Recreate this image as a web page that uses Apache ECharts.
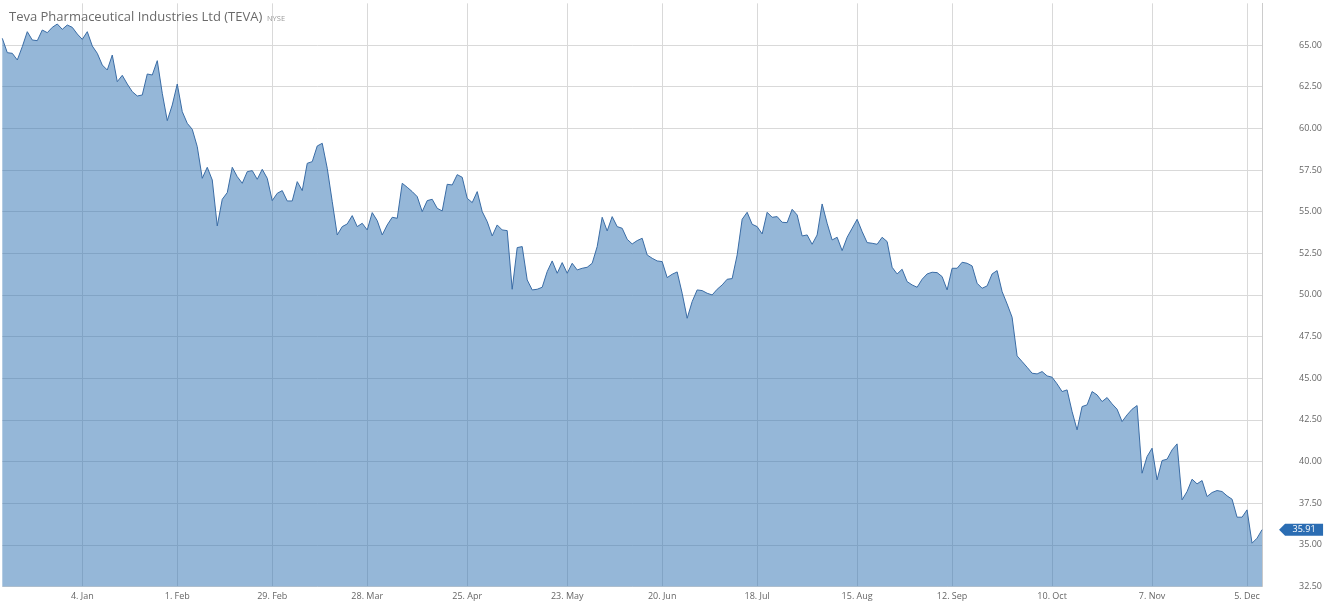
<!DOCTYPE html>
<html><head><meta charset="utf-8">
<script src="https://cdn.jsdelivr.net/npm/echarts@6/dist/echarts.min.js"></script>
<style>html,body{margin:0;padding:0;background:#fff}#c{width:1325px;height:606px}</style>
</head><body><div id="c"></div>
<script>
const titleText = 'Teva Pharmaceutical Industries Ltd (TEVA)';
const exchange = 'NYSE';
const startDate = '2015-12-09';
const endDate = '2016-12-08';
const holidays = ['2015-12-25','2016-01-01','2016-01-18','2016-02-15','2016-03-25','2016-05-30','2016-07-04','2016-09-05','2016-11-24'];
const tickDates = ['2016-01-04','2016-02-01','2016-02-29','2016-03-28','2016-04-25','2016-05-23','2016-06-20','2016-07-18','2016-08-15','2016-09-12','2016-10-10','2016-11-07','2016-12-05'];
const monthNames = ['Jan','Feb','Mar','Apr','May','Jun','Jul','Aug','Sep','Oct','Nov','Dec'];
const yTicks = {min: 32.5, max: 67.5, step: 2.5};
const closes = [
65.4,64.54,64.5,64.1,64.9,65.8,65.3,65.26,65.9,65.74,
66.06,66.26,65.94,66.2,66.06,65.66,65.34,65.8,64.94,64.5,
63.8,63.5,64.4,62.8,63.18,62.66,62.2,61.94,62.0,63.26,
63.2,64.06,62.1,60.46,61.4,62.66,61.0,60.3,59.94,58.9,
57.0,57.66,56.9,54.14,55.74,56.14,57.66,57.1,56.7,57.4,
57.46,56.94,57.54,57.0,55.66,56.1,56.26,55.64,55.64,56.8,
56.26,57.9,58.0,58.94,59.1,57.6,55.6,53.6,54.1,54.26,
54.76,54.1,54.3,53.9,54.94,54.46,53.6,54.2,54.66,54.6,
56.7,56.46,56.2,55.9,55.0,55.66,55.74,55.2,55.04,56.64,
56.6,57.22,57.06,55.8,55.54,56.2,55.0,54.4,53.54,54.2,
53.9,53.86,50.34,52.84,52.9,50.9,50.3,50.34,50.46,51.4,
52.04,51.3,51.94,51.3,51.9,51.5,51.6,51.66,51.9,52.9,
54.66,53.84,54.7,54.1,54.0,53.34,53.06,53.26,53.4,52.4,
52.2,52.04,52.0,51.04,51.24,51.38,50.1,48.6,49.6,50.3,
50.26,50.1,50.0,50.34,50.6,50.94,50.98,52.4,54.54,54.96,
54.24,54.1,53.66,54.96,54.66,54.7,54.36,54.34,55.14,54.8,
53.54,53.6,53.04,53.6,55.46,54.3,53.3,53.46,52.66,53.46,
54.0,54.54,53.8,53.14,53.1,53.04,53.46,53.2,51.66,51.26,
51.54,50.8,50.6,50.46,50.94,51.26,51.36,51.34,51.1,50.3,
51.6,51.6,51.96,51.9,51.74,50.7,50.4,50.54,51.26,51.46,
50.2,49.46,48.66,46.34,46.0,45.66,45.3,45.26,45.4,45.14,
45.06,44.66,44.2,44.3,43.0,41.9,43.3,43.4,44.2,44.0,
43.6,43.84,43.46,43.14,42.4,42.8,43.14,43.36,39.3,40.3,
40.8,38.9,40.06,40.14,40.7,41.06,37.7,38.2,38.94,38.66,
38.86,37.9,38.14,38.26,38.2,37.94,37.74,36.66,36.66,37.1,
35.1,35.4,35.91
];

function pad(n){return (n<10?'0':'')+n;}
function tradingDays(from, to, skip){
  const out = [];
  const d = new Date(from + 'T00:00:00Z');
  const end = new Date(to + 'T00:00:00Z');
  while (d <= end) {
    const s = d.getUTCFullYear() + '-' + pad(d.getUTCMonth()+1) + '-' + pad(d.getUTCDate());
    const wd = d.getUTCDay();
    if (wd !== 0 && wd !== 6 && skip.indexOf(s) < 0) out.push(s);
    d.setUTCDate(d.getUTCDate()+1);
  }
  return out;
}
const dates = tradingDays(startDate, endDate, holidays);
const isTick = (idx, val) => tickDates.indexOf(val) >= 0;
function fmtDate(s){
  const p = s.split('-');
  return parseInt(p[2],10) + '. ' + monthNames[parseInt(p[1],10)-1];
}
const lastIdx = closes.length - 1;

const chart = echarts.init(document.getElementById('c'), null, {renderer:'canvas'});
chart.setOption({
  animation: false,
  backgroundColor: '#ffffff',
  textStyle: {fontFamily: '"Open Sans", "DejaVu Sans", sans-serif'},
  title: {
    text: '{a|' + titleText + '} {b|' + exchange + '}',
    left: 4, top: 3,
    textStyle: {
      fontWeight: 'normal',
      rich: {
        a: {fontSize: 13, fontWeight: 'normal', color: '#6a6a6a', fontFamily: '"Open Sans", sans-serif'},
        b: {fontSize: 7.5, fontWeight: 'normal', color: '#9a9a9a', fontFamily: '"Open Sans", sans-serif', padding: [3,0,0,0]}
      }
    }
  },
  grid: {left: 2.3, right: 62.7, top: 3.35, bottom: 19.5, containLabel: false},
  xAxis: {
    type: 'category',
    data: dates,
    boundaryGap: false,
    axisLine: {show: false},
    axisTick: {show: false},
    axisLabel: {
      interval: isTick,
      formatter: fmtDate,
      color: '#666666',
      fontSize: 9,
      margin: 5
    },
    splitLine: {show: true, interval: isTick, lineStyle: {color: '#d9d9d9', width: 1}}
  },
  yAxis: {
    type: 'value',
    position: 'right',
    min: yTicks.min, max: yTicks.max, interval: yTicks.step,
    axisLine: {show: true, lineStyle: {color: '#cccccc'}},
    axisTick: {show: false},
    axisLabel: {
      showMaxLabel: false,
      formatter: v => v.toFixed(2),
      color: '#666666',
      fontSize: 9,
      margin: 37
    },
    splitLine: {show: true, showMaxLine: false, lineStyle: {color: '#d9d9d9', width: 1}}
  },
  series: [{
    type: 'line',
    data: closes,
    symbol: 'none',
    lineStyle: {color: '#3a6ca5', width: 1},
    areaStyle: {color: 'rgba(44,112,178,0.5)', opacity: 1},
    z: 3,
    markPoint: {
      silent: true,
      symbol: 'path://M0,6 L6,0 L44,0 L44,12 L6,12 Z',
      symbolSize: [44, 12],
      symbolOffset: [39, 0],
      itemStyle: {color: '#2b6db3'},
      label: {show: true, position: 'inside', color: '#ffffff', fontSize: 9, offset: [3, 0], formatter: p => p.value.toFixed(2)},
      data: [{coord: [lastIdx, closes[lastIdx]], value: closes[lastIdx]}]
    }
  }]
});
</script></body></html>
